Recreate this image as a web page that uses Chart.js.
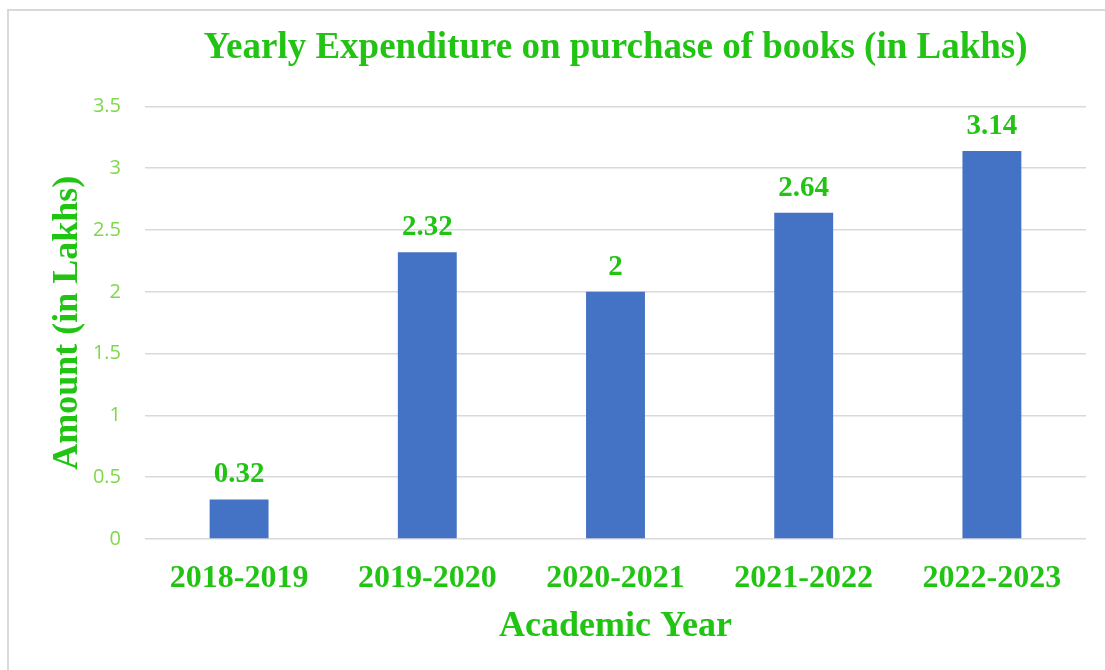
<!DOCTYPE html>
<html>
<head>
<meta charset="utf-8">
<script src="https://cdn.jsdelivr.net/npm/chart.js@4.4.0/dist/chart.umd.min.js"></script>
<style>
	body { margin: 0; background: #fff; }
	#wrap { width: 1105px; height: 670px; position: relative; }
</style>
</head>
<body>
<div id="wrap"><canvas id="expenditureChart" width="1105" height="670"></canvas></div>
<script>
var years = ["2018-2019", "2019-2020", "2020-2021", "2021-2022", "2022-2023"];
var amounts = [0.32, 2.32, 2, 2.64, 3.14];
var chartTitle = "Yearly Expenditure on purchase of books (in Lakhs)";
var xTitle = "Academic Year";
var yTitle = "Amount (in Lakhs)";

var green = "#22C414";
var lightGreen = "#7FD84A";
var serif = "'Liberation Serif', 'Times New Roman', serif";

// frame round the whole chart
var framePlugin = {
	id: "frame",
	beforeDraw: function(chart){
		var ctx = chart.ctx;
		ctx.save();
		ctx.fillStyle = "#fff";
		ctx.fillRect(0, 0, chart.width, chart.height);
		ctx.strokeStyle = "#d9d9d9";
		ctx.lineWidth = 2;
		ctx.strokeRect(8, 10, chart.width + 20, chart.height + 20);
		ctx.restore();
	}
};

// value labels above the bars
var valueLabels = {
	id: "valueLabels",
	afterDatasetsDraw: function(chart){
		var ctx = chart.ctx;
		var meta = chart.getDatasetMeta(0);
		ctx.save();
		ctx.font = "bold 29px " + serif;
		ctx.fillStyle = green;
		ctx.textAlign = "center";
		ctx.textBaseline = "alphabetic";
		meta.data.forEach(function(bar, i){
			ctx.fillText(String(amounts[i]), bar.x, bar.y - 17);
		});
		ctx.restore();
	}
};

var drawBarChart = function(id){
	var ctx = document.getElementById(id).getContext("2d");
	new Chart(ctx, {
		type: "bar",
		data: {
			labels: years,
			datasets: [{
				data: amounts,
				backgroundColor: "#4472C4",
				borderWidth: 0,
				barPercentage: 0.313,
				categoryPercentage: 1
			}]
		},
		options: {
			responsive: false,
			animation: false,
			layout: { padding: { left: 0, right: 19, top: 0, bottom: 0 } },
			plugins: {
				legend: { display: false },
				tooltip: { enabled: false },
				title: {
					display: true,
					text: chartTitle,
					color: green,
					fullSize: false,
					font: { family: serif, size: 37, weight: "bold" },
					padding: { top: 26, bottom: 36 }
				}
			},
			scales: {
				x: {
					grid: { display: false },
					border: { display: false },
					ticks: {
						color: green,
						padding: 13,
						font: { family: serif, size: 32, weight: "bold" }
					},
					title: {
						display: true,
						text: xTitle,
						color: green,
						font: { family: serif, size: 36, weight: "bold" },
						padding: { top: 0, bottom: 22 }
					},
					afterFit: function(scale){ scale.height = 131; }
				},
				y: {
					min: 0,
					max: 3.5,
					grid: { color: "#d9d9d9", lineWidth: 1.5, drawTicks: false },
					border: { display: false },
					ticks: {
						stepSize: 0.5,
						color: lightGreen,
						padding: 24,
						font: { family: "'Open Sans', sans-serif", size: 20 },
						callback: function(value){ return String(Number(value)); }
					},
					title: {
						display: true,
						text: yTitle,
						color: green,
						font: { family: serif, size: 36, weight: "bold" },
						padding: { top: 46, bottom: 0 }
					},
					afterFit: function(scale){ scale.width = 145; }
				}
			}
		},
		plugins: [framePlugin, valueLabels]
	});
}

drawBarChart("expenditureChart");
</script>
</body>
</html>
